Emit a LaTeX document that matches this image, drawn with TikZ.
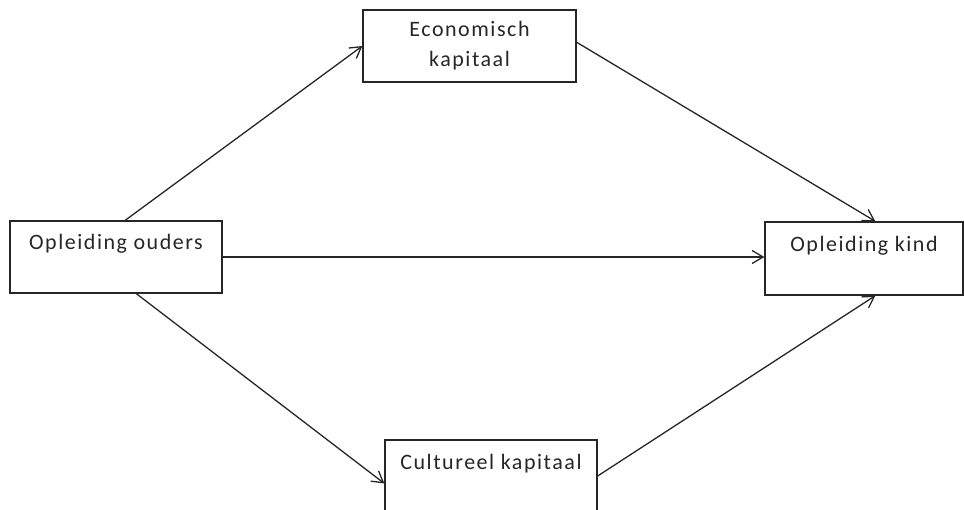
\documentclass[tikz,border=0pt]{standalone}
\usepackage{fontspec}
\newfontfamily\boxfont[LetterSpace=7]{Carlito}
\usetikzlibrary{arrows.meta}

\begin{document}
\begin{tikzpicture}[x=1pt,y=-1pt,
    box/.style={draw=black!85, line width=1.3pt, rectangle, inner sep=0pt,
      minimum width=212pt, minimum height=72pt,
      font=\boxfont\fontsize{22}{30}\selectfont, text=black!85},
    topbox/.style={box, text height=29pt, text depth=43pt},
    pijl/.style={draw=black!85, line width=1.3pt,
      -{Straight Barb[length=11pt,width=13pt,line width=1.3pt]}}]

  \useasboundingbox (0,0) rectangle (964,510);

  % de vier blokken
  \node[topbox] (ouders) at (116,257) {Opleiding ouders};
  \node[box, align=center, minimum width=213pt] (econ) at (469.5,46) {Economisch\\kapitaal};
  \node[topbox, minimum width=198pt, text height=30pt] (kind) at (864,258.5) {Opleiding kind};
  \node[topbox] (cult) at (491,476) {Cultureel kapitaal};

  % de pijlen
  \begin{scope}[every edge/.style={pijl}]
    \path (ouders.76) edge (econ.west);
    \path (ouders.east) edge (ouders.east -| kind.west);
    \path (ouders.-61) edge (cult.184);
    \path (econ.2) edge (kind.73);
    \path (cult.east) edge (kind.-73);
  \end{scope}

\end{tikzpicture}
\end{document}
